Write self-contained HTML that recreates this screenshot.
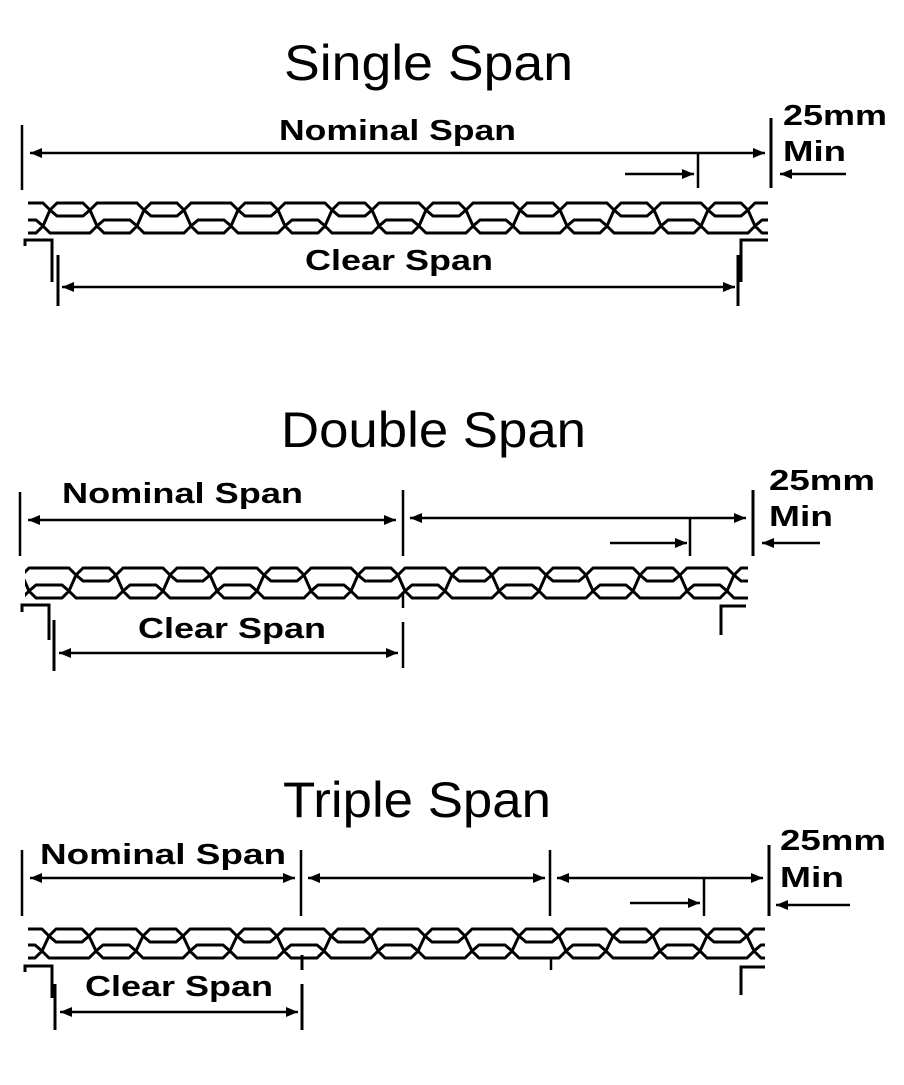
<!DOCTYPE html>
<html><head><meta charset="utf-8"><style>
html,body{margin:0;padding:0;background:#fff;}
svg{display:block;}
.t{font-family:"Liberation Sans",sans-serif;font-size:50px;fill:#000;}
.l{font-family:"Liberation Sans",sans-serif;font-size:29px;font-weight:bold;fill:#000;}
</style></head><body>
<svg id="s" width="904" height="1085" viewBox="0 0 904 1085" xmlns="http://www.w3.org/2000/svg">
<defs>
<marker id="a" viewBox="0 0 12 10" refX="12" refY="5" markerWidth="12" markerHeight="10" markerUnits="userSpaceOnUse" orient="auto-start-reverse"><path d="M0,0 L12,5 L0,10 z" fill="#000"/></marker>
</defs>
<g stroke="#000" stroke-width="2.5" fill="none">
<line x1="22" y1="125" x2="22" y2="190"/>
<line x1="30" y1="153" x2="765" y2="153" marker-start="url(#a)" marker-end="url(#a)"/>
<line x1="771" y1="118" x2="771" y2="188" stroke-width="3"/>
<line x1="698" y1="152" x2="698" y2="188"/>
<line x1="625" y1="174" x2="694" y2="174" marker-end="url(#a)"/>
<line x1="846" y1="174" x2="780" y2="174" marker-end="url(#a)"/>
<path d="M25,246 V240 H52 V282 M58,255 V306" stroke-width="3"/>
<line x1="62" y1="287" x2="735" y2="287" marker-start="url(#a)" marker-end="url(#a)"/>
<path d="M768,240 H741 V282 M738,255 V306" stroke-width="3"/>

<line x1="20" y1="492" x2="20" y2="556"/>
<line x1="28" y1="520" x2="396" y2="520" marker-start="url(#a)" marker-end="url(#a)"/>
<line x1="403" y1="490" x2="403" y2="556"/>
<line x1="410" y1="518" x2="746" y2="518" marker-start="url(#a)" marker-end="url(#a)"/>
<line x1="753" y1="490" x2="753" y2="556" stroke-width="3"/>
<line x1="690" y1="518" x2="690" y2="556"/>
<line x1="610" y1="543" x2="687" y2="543" marker-end="url(#a)"/>
<line x1="820" y1="543" x2="762" y2="543" marker-end="url(#a)"/>
<path d="M22,612 V605 H49 V640 M54,620 V671" stroke-width="3"/>
<line x1="59" y1="653" x2="398" y2="653" marker-start="url(#a)" marker-end="url(#a)"/>
<path d="M403,592 V608 M403,622 V668"/>
<path d="M746,606 H721 V635" stroke-width="3"/>

<line x1="22" y1="850" x2="22" y2="916"/>
<line x1="30" y1="878" x2="295" y2="878" marker-start="url(#a)" marker-end="url(#a)"/>
<line x1="301" y1="850" x2="301" y2="916"/>
<line x1="308" y1="878" x2="545" y2="878" marker-start="url(#a)" marker-end="url(#a)"/>
<line x1="550" y1="850" x2="550" y2="916"/>
<line x1="557" y1="878" x2="763" y2="878" marker-start="url(#a)" marker-end="url(#a)"/>
<line x1="769" y1="845" x2="769" y2="916" stroke-width="3"/>
<line x1="704" y1="878" x2="704" y2="916"/>
<line x1="630" y1="903" x2="700" y2="903" marker-end="url(#a)"/>
<line x1="850" y1="905" x2="776" y2="905" marker-end="url(#a)"/>
<path d="M25,972 V966 H52 V998 M55,984 V1030" stroke-width="3"/>
<line x1="60" y1="1012" x2="298" y2="1012" marker-start="url(#a)" marker-end="url(#a)"/>
<path d="M302,955 V970 M302,984 V1030" stroke-width="3"/>
<path d="M551,957 V970"/>
<path d="M765,967 H741 V995" stroke-width="3"/>
</g>
<g id="chains" stroke="#000" stroke-width="3" fill="none" stroke-linejoin="round" stroke-linecap="round"></g>

<text class="t" x="284" y="80" textLength="289" lengthAdjust="spacingAndGlyphs">Single Span</text>
<text class="l" x="279" y="140" textLength="237" lengthAdjust="spacingAndGlyphs">Nominal Span</text>
<text class="l" x="305" y="270" textLength="188" lengthAdjust="spacingAndGlyphs">Clear Span</text>
<text class="l" x="783" y="125" textLength="104" lengthAdjust="spacingAndGlyphs">25mm</text>
<text class="l" x="783" y="161" textLength="63" lengthAdjust="spacingAndGlyphs">Min</text>

<text class="t" x="281" y="447" textLength="305" lengthAdjust="spacingAndGlyphs">Double Span</text>
<text class="l" x="62" y="503" textLength="241" lengthAdjust="spacingAndGlyphs">Nominal Span</text>
<text class="l" x="138" y="638" textLength="188" lengthAdjust="spacingAndGlyphs">Clear Span</text>
<text class="l" x="769" y="490" textLength="106" lengthAdjust="spacingAndGlyphs">25mm</text>
<text class="l" x="769" y="526" textLength="64" lengthAdjust="spacingAndGlyphs">Min</text>

<text class="t" x="283" y="817" textLength="268" lengthAdjust="spacingAndGlyphs">Triple Span</text>
<text class="l" x="40" y="864" textLength="246" lengthAdjust="spacingAndGlyphs">Nominal Span</text>
<text class="l" x="85" y="996" textLength="188" lengthAdjust="spacingAndGlyphs">Clear Span</text>
<text class="l" x="780" y="850" textLength="106" lengthAdjust="spacingAndGlyphs">25mm</text>
<text class="l" x="780" y="887" textLength="64" lengthAdjust="spacingAndGlyphs">Min</text>
</svg>
<script>
(function(){
var g=document.getElementById('chains');
function chain(x0,x1,yt,yb,c0){
  var h=yb-yt;
  var tTip=yt+7, tIn=yt+13, bIn=yb-13, bTip=yb-7;
  var cells=[];
  for(var k=-4;k<40;k++){var c=c0+47*k; cells.push({a:c-20,b:c+20,top:(((k%2)+2)%2===0)});}
  var T=[],B=[],M=[];
  T.push([x0-30,yt]);B.push([x0-30,yb]);
  cells.forEach(function(cl){
    if(cl.top){
      T.push([cl.a-7,yt],[cl.a,tTip],[cl.a+7,yt],[cl.b-7,yt],[cl.b,tTip],[cl.b+7,yt]);
      M.push([cl.a,tTip],[cl.a+7,tIn],[cl.b-7,tIn],[cl.b,tTip]);
    } else {
      B.push([cl.a-7,yb],[cl.a,bTip],[cl.a+7,yb],[cl.b-7,yb],[cl.b,bTip],[cl.b+7,yb]);
      M.push([cl.a,bTip],[cl.a+7,bIn],[cl.b-7,bIn],[cl.b,bTip]);
    }
  });
  function d(pts){return 'M'+pts.map(function(p){return p[0]+','+p[1];}).join(' L');}
  var cp=document.createElementNS('http://www.w3.org/2000/svg','clipPath');
  var id='c'+yt; cp.setAttribute('id',id);
  var r=document.createElementNS('http://www.w3.org/2000/svg','rect');
  r.setAttribute('x',x0);r.setAttribute('y',yt-5);r.setAttribute('width',x1-x0);r.setAttribute('height',h+10);
  cp.appendChild(r);document.querySelector('defs').appendChild(cp);
  var p=document.createElementNS('http://www.w3.org/2000/svg','path');
  p.setAttribute('d',d(T)+' '+d(B)+' '+d(M));
  p.setAttribute('clip-path','url(#'+id+')');
  g.appendChild(p);
}
chain(28,768,203,233,70);
chain(25,748,568,598,96);
chain(28,765,929,958,163);
})();
</script>
</body></html>
